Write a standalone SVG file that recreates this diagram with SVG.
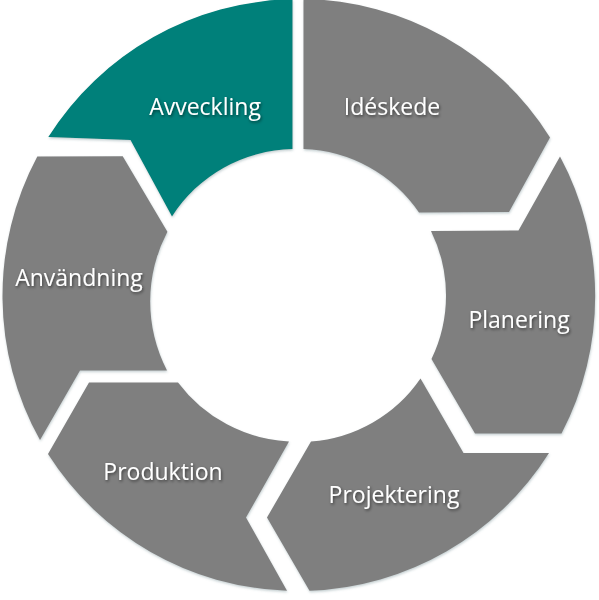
<svg xmlns="http://www.w3.org/2000/svg" width="599" height="600" viewBox="0 0 599 600">
<defs>
<filter id="shapeShadow" x="-10%" y="-10%" width="120%" height="120%">
<feDropShadow dx="0.5" dy="1.5" stdDeviation="1.2" flood-color="#5a7a80" flood-opacity="0.35"/>
</filter>
<filter id="textShadow" x="-20%" y="-40%" width="140%" height="180%">
<feDropShadow dx="1" dy="1.5" stdDeviation="1.5" flood-color="#000" flood-opacity="0.55"/>
</filter>
</defs>
<style>
.seg{fill:#7f7f7f;filter:url(#shapeShadow)}
.seg.active{fill:#00807a}
.lbl{font-family:"Open Sans","Noto Sans","Liberation Sans",sans-serif;font-size:23px;fill:#ffffff;text-anchor:middle;filter:url(#textShadow)}
</style>
<rect width="599" height="600" fill="#ffffff"/>
<g id="ideskede">
<path class="seg" d="M303.5,-1 A296,296 0 0 1 550,137.5 L509,212 L419,212.5 A146,146 0 0 0 303.5,149 Z"/>
<text class="lbl" x="392" y="115">Idéskede</text>
</g>
<g id="planering">
<path class="seg" d="M560,156.5 A296,296 0 0 1 561.5,433.5 L475,433.5 L431.5,359 A146,146 0 0 0 431,231 L518.5,230.5 Z"/>
<text class="lbl" x="519" y="328">Planering</text>
</g>
<g id="projektering">
<path class="seg" d="M549,453 A296,296 0 0 1 309.5,590.8 L267,517.5 L311,441.5 A146,146 0 0 0 420.5,378.5 L463.5,453 Z"/>
<text class="lbl" x="394" y="503">Projektering</text>
</g>
<g id="produktion">
<path class="seg" d="M287,590.8 A296,296 0 0 1 48,454 L89,382.5 L178,382.5 A148,148 0 0 0 289,441.5 L246,517.5 Z"/>
<text class="lbl" x="163" y="480">Produktion</text>
</g>
<g id="anvandning">
<path class="seg" d="M40,440 A296,296 0 0 1 37.3,156.6 L122.7,156.3 L167.4,231.7 A150,150 0 0 0 167,370.5 L80,370.5 Z"/>
<text class="lbl" x="79" y="286">Användning</text>
</g>
<g id="avveckling">
<path class="seg active" d="M48.3,137 A296,296 0 0 1 292.5,-0.9 L292.5,149.1 A146,146 0 0 0 172,216.5 L130.5,140 Z"/>
<text class="lbl" x="205" y="115">Avveckling</text>
</g>
</svg>
